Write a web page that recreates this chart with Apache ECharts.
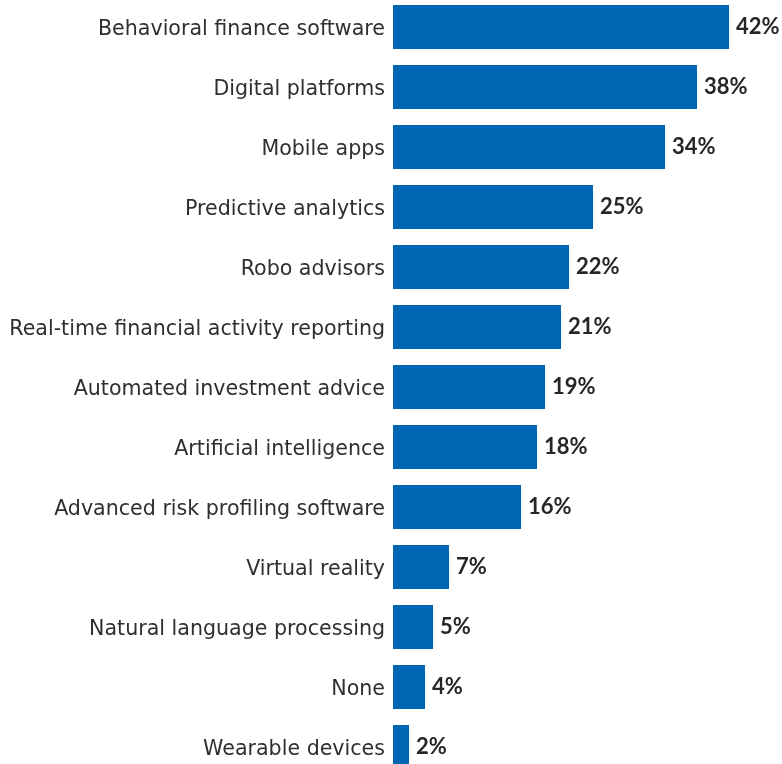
<!DOCTYPE html>
<html>
<head>
<meta charset="utf-8">
<script src="https://cdn.jsdelivr.net/npm/echarts@6/dist/echarts.min.js"></script>
<style>
  html, body { margin: 0; padding: 0; background: #ffffff; overflow: hidden; }
  #chart { width: 782px; height: 780px; margin-top: -3px; }
</style>
</head>
<body>
<div id="chart"></div>
<script>
// Technologies used, share of respondents (%), top to bottom
const categories = [
  'Behavioral finance software',
  'Digital platforms',
  'Mobile apps',
  'Predictive analytics',
  'Robo advisors',
  'Real-time financial activity reporting',
  'Automated investment advice',
  'Artificial intelligence',
  'Advanced risk profiling software',
  'Virtual reality',
  'Natural language processing',
  'None',
  'Wearable devices'
];
const shares = [42, 38, 34, 25, 22, 21, 19, 18, 16, 7, 5, 4, 2];

const chart = echarts.init(document.getElementById('chart'), null, { renderer: 'canvas' });
chart.setOption({
  animation: false,
  grid: { left: 393, top: 0, right: 53, bottom: 0, containLabel: false },
  xAxis: {
    type: 'value', min: 0, max: 42, show: false
  },
  yAxis: {
    type: 'category',
    data: categories,
    inverse: true,
    axisLine: { show: false },
    axisTick: { show: false },
    axisLabel: {
      margin: 8,
      formatter: (name) => '{cat|' + name + '}',
      rich: {
        cat: {
          padding: [5, 0, 0, 0],
          fontFamily: 'DejaVu Sans',
          fontSize: 20.6,
          color: '#2f2f2f'
        }
      }
    }
  },
  series: [{
    type: 'bar',
    data: shares,
    barWidth: 44,
    itemStyle: { color: '#0066b3' },
    label: {
      show: true,
      position: 'right',
      distance: 7,
      formatter: '{c}%',
      fontFamily: 'Lato',
      fontWeight: 'bold',
      fontSize: 22,
      color: '#262626'
    }
  }]
});
</script>
</body>
</html>
